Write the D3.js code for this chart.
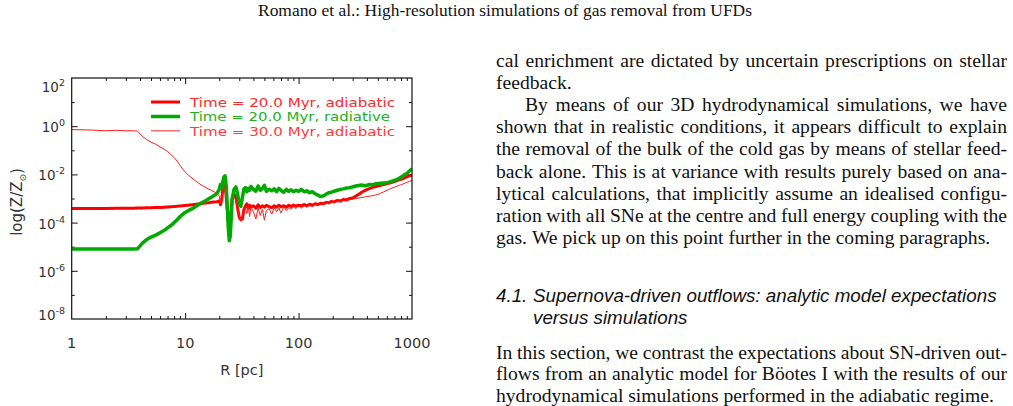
<!DOCTYPE html>
<html><head><meta charset="utf-8">
<script src="https://cdn.jsdelivr.net/npm/d3@7"></script>
<style>html,body{margin:0;padding:0;background:#fff;overflow:hidden;} svg{display:block;}</style>
</head><body>
<svg id="c" width="1013" height="406"></svg>
<script>
// ---------------- data ----------------
const radius_pc = [1,1.5,2,2.5,3,3.5,3.8,4.2,4.6,5,5.5,6,6.5,7,7.5,8,8.5,9,9.5,10,11,12,13,14,15,16,17,18,19,
  20,20.5,21,21.5,22,22.5,23,23.5,24,24.5,25,25.5,26,
  27,28,29,30,31,32,33,34,35,36,37,38,
  40,42,44,46,48,50,52,55,58,61,64,67,70,74,78,82,86,90,95,100,106,112,118,125,132,140,148,156,165,175,185,195,205,220,235,250,265,280,
  300,320,340,360,380,400,425,450,475,500,530,560,590,620,650,690,730,770,810,850,900,950,1000];

// log10(Z/Zsun)
const logZ_adiabatic_20 = [-3.41,-3.41,-3.41,-3.40,-3.40,-3.40,-3.39,-3.39,-3.38,-3.38,-3.37,-3.37,-3.36,-3.35,-3.34,-3.33,-3.32,-3.31,-3.30,-3.29,-3.27,-3.25,-3.23,-3.21,-3.19,-3.18,-3.16,-3.15,-3.14,
  -3.10,-3.26,-3.05,-2.60,-2.35,-2.45,-2.90,-3.40,-3.90,-4.15,-3.90,-3.40,-3.00,
  -2.82,-2.92,-3.40,-3.78,-3.88,-3.85,-3.45,-3.32,-3.22,-3.42,-3.28,-3.36,
  -3.30,-3.40,-3.26,-3.38,-3.30,-3.36,-3.28,-3.34,-3.38,-3.30,-3.36,-3.28,-3.34,-3.30,-3.36,-3.28,-3.33,-3.27,-3.32,-3.28,-3.30,-3.25,-3.30,-3.24,-3.28,-3.22,-3.25,-3.20,-3.22,-3.16,-3.18,-3.12,-3.14,-3.08,-3.10,-3.04,-3.06,-3.00,
  -2.98,-2.90,-2.82,-2.74,-2.68,-2.63,-2.58,-2.54,-2.51,-2.48,-2.45,-2.42,-2.40,-2.37,-2.35,-2.31,-2.27,-2.23,-2.19,-2.15,-2.10,-2.06,-2.02];

const logZ_radiative_20 = [-5.10,-5.10,-5.10,-5.10,-5.10,-5.10,-5.09,-4.85,-4.70,-4.60,-4.52,-4.42,-4.33,-4.22,-4.12,-4.00,-3.88,-3.76,-3.66,-3.58,-3.47,-3.38,-3.27,-3.18,-3.10,-3.02,-2.95,-2.88,-2.80,
  -2.62,-2.42,-2.58,-2.30,-2.10,-2.06,-2.45,-3.30,-4.20,-4.75,-4.55,-3.80,-3.00,
  -2.62,-2.52,-2.80,-3.25,-3.32,-2.95,-2.60,-2.55,-2.72,-2.58,-2.66,-2.50,
  -2.62,-2.70,-2.48,-2.66,-2.58,-2.45,-2.70,-2.62,-2.68,-2.60,-2.72,-2.58,-2.66,-2.74,-2.62,-2.70,-2.64,-2.72,-2.66,-2.70,-2.62,-2.72,-2.68,-2.76,-2.72,-2.80,-2.86,-2.92,-2.90,-2.82,-2.76,-2.74,-2.70,-2.66,-2.62,-2.60,-2.56,-2.55,
  -2.52,-2.48,-2.46,-2.44,-2.47,-2.45,-2.42,-2.43,-2.40,-2.38,-2.37,-2.36,-2.35,-2.33,-2.30,-2.26,-2.22,-2.16,-2.10,-2.03,-1.96,-1.86,-1.77];

const logZ_adiabatic_30 = [-0.14,-0.16,-0.19,-0.17,-0.19,-0.19,-0.20,-0.42,-0.56,-0.66,-0.75,-0.86,-0.95,-1.05,-1.18,-1.30,-1.45,-1.62,-1.78,-1.90,-2.08,-2.22,-2.35,-2.45,-2.53,-2.60,-2.66,-2.72,-2.78,
  -2.90,-3.20,-3.12,-2.75,-2.50,-2.62,-3.00,-3.50,-3.80,-3.92,-3.70,-3.30,-3.02,
  -2.90,-3.10,-3.50,-3.70,-3.95,-3.70,-3.55,-3.40,-3.62,-3.30,-3.75,-3.35,
  -3.55,-3.85,-3.40,-3.70,-3.45,-3.90,-3.50,-3.42,-3.65,-3.38,-3.55,-3.40,-3.60,-3.35,-3.50,-3.38,-3.45,-3.32,-3.42,-3.30,-3.40,-3.30,-3.36,-3.28,-3.34,-3.25,-3.30,-3.22,-3.26,-3.18,-3.22,-3.15,-3.18,-3.12,-3.14,-3.08,-3.10,-3.05,
  -3.03,-3.00,-2.98,-2.96,-2.94,-2.92,-2.90,-2.88,-2.86,-2.83,-2.78,-2.73,-2.68,-2.63,-2.59,-2.54,-2.50,-2.46,-2.42,-2.38,-2.33,-2.29,-2.25];

const seriesLabels = ["Time = 20.0 Myr, adiabatic", "Time = 20.0 Myr, radiative", "Time = 30.0 Myr, adiabatic"];
const xTickValues = [1, 10, 100, 1000];
const xTickLabels = ["1", "10", "100", "1000"];
const yTickExponents = [-8, -6, -4, -2, 0, 2];
const xTitle = "R [pc]";

const headerText = "Romano et al.: High-resolution simulations of gas removal from UFDs";
const paragraph1 = [
  "cal enrichment are dictated by uncertain prescriptions on stellar",
  "feedback."];
const paragraph2 = [
  "By means of our 3D hydrodynamical simulations, we have",
  "shown that in realistic conditions, it appears difficult to explain",
  "the removal of the bulk of the cold gas by means of stellar feed-",
  "back alone. This is at variance with results purely based on ana-",
  "lytical calculations, that implicitly assume an idealised configu-",
  "ration with all SNe at the centre and full energy coupling with the",
  "gas. We pick up on this point further in the coming paragraphs."];
const headingNumber = "4.1.";
const headingLines = ["Supernova-driven outflows: analytic model expectations", "versus simulations"];
const paragraph3 = [
  "In this section, we contrast the expectations about SN-driven out-",
  "flows from an analytic model for Böotes I with the results of our",
  "hydrodynamical simulations performed in the adiabatic regime."];

// ---------------- drawing ----------------
const svg = d3.select("#c");
svg.append("rect").attr("width", 1013).attr("height", 406).attr("fill", "#fff");

// header
svg.append("text").attr("x", 505).attr("y", 16).attr("text-anchor", "middle")
  .attr("font-family", "Liberation Serif").attr("font-size", 17)
  .attr("textLength", 494).attr("lengthAdjust", "spacingAndGlyphs")
  .attr("fill", "#111").text(headerText);

// chart
const P = {left: 71.7, right: 412, top: 78, bottom: 319};
const x = d3.scaleLog().domain([1, 1000]).range([P.left, P.right]);
const y = d3.scaleLog().domain([1e-8, 1e2]).range([P.bottom, P.top]);

const chart = svg.append("g");
const clip = svg.append("defs").append("clipPath").attr("id", "pc");
clip.append("rect").attr("x", P.left).attr("y", P.top).attr("width", P.right - P.left).attr("height", P.bottom - P.top);

const minorX = [2,3,4,5,6,7,8,9,20,30,40,50,60,70,80,90,200,300,400,500,600,700,800,900];
const majorX = [10, 100];
const majorY = [1e-6, 1e-4, 1e-2, 1];
const minorY = [1e-7, 1e-5, 1e-3, 1e-1, 10];

function tickAxis(gen, vals, size, tx, ty) {
  const g = chart.append("g").attr("transform", `translate(${tx},${ty})`)
    .call(gen.tickValues(vals).tickSize(-size).tickFormat(""));
  g.select(".domain").remove();
  g.selectAll("line").attr("stroke", "#111").attr("stroke-width", 1);
}
tickAxis(d3.axisBottom(x), majorX, 6, 0, P.bottom);
tickAxis(d3.axisBottom(x), minorX, 3, 0, P.bottom);
tickAxis(d3.axisTop(x), majorX, 6, 0, P.top);
tickAxis(d3.axisTop(x), minorX, 3, 0, P.top);
tickAxis(d3.axisLeft(y), majorY, 6, P.left, 0);
tickAxis(d3.axisLeft(y), minorY, 3, P.left, 0);
tickAxis(d3.axisRight(y), majorY, 6, P.right, 0);
tickAxis(d3.axisRight(y), minorY, 3, P.right, 0);

// series
const series = [
  {vals: logZ_adiabatic_20, color: "#ff0000", w: 3},
  {vals: logZ_adiabatic_30, color: "#ff1a1a", w: 1},
  {vals: logZ_radiative_20, color: "#00aa00", w: 3.5}
];
const line = d3.line().x(d => x(d[0])).y(d => y(d[1]));
const plotG = chart.append("g").attr("clip-path", "url(#pc)");
series.forEach(s => {
  plotG.append("path")
    .datum(radius_pc.map((r, i) => [r, Math.pow(10, s.vals[i])]))
    .attr("d", line).attr("fill", "none").attr("stroke", s.color)
    .attr("stroke-width", s.w).attr("stroke-linejoin", "round").attr("stroke-linecap", "butt");
});

// frame
chart.append("rect").attr("x", P.left).attr("y", P.top)
  .attr("width", P.right - P.left).attr("height", P.bottom - P.top)
  .attr("fill", "none").attr("stroke", "#111").attr("stroke-width", 1.2);

// x tick labels
xTickValues.forEach((v, i) => {
  chart.append("text").attr("x", x(v)).attr("y", 348).attr("text-anchor", "middle")
    .attr("font-family", "DejaVu Sans").attr("font-size", 14.5).attr("fill", "#333")
    .text(xTickLabels[i]);
});
chart.append("text").attr("x", (P.left + P.right) / 2).attr("y", 375).attr("text-anchor", "middle")
  .attr("font-family", "DejaVu Sans").attr("font-size", 14.5).attr("fill", "#333").text(xTitle);

// y tick labels
yTickExponents.forEach(e => {
  let cy = y(Math.pow(10, e));
  cy = Math.min(Math.max(cy + 1, P.top + 9), P.bottom - 4.5);
  const t = chart.append("text").attr("x", 65).attr("y", cy + 5).attr("text-anchor", "end")
    .attr("font-family", "DejaVu Sans").attr("font-size", 13.5).attr("fill", "#333");
  t.append("tspan").text("10");
  t.append("tspan").attr("dy", -6).attr("font-size", 9.5).text(String(e));
});

// y title
const yt = chart.append("text").attr("transform", "translate(22,202) rotate(-90)")
  .attr("text-anchor", "middle").attr("font-family", "DejaVu Sans").attr("font-size", 15).attr("fill", "#333");
yt.append("tspan").text("log(Z/Z");
yt.append("tspan").attr("font-size", 9).attr("dy", 4).text("\u2299");
yt.append("tspan").attr("dy", -4).text(")");

// legend
const legendColors = ["#ff0000", "#00aa00", "#ff4a4a"];
const legendTextColors = ["#ff2a2a", "#22b022", "#ff3a3a"];
const legendWidths = [3, 3.5, 1.2];
const legendRows = [102, 116.5, 130.8];
seriesLabels.forEach((lab, i) => {
  chart.append("line").attr("x1", 151).attr("x2", 180).attr("y1", legendRows[i]).attr("y2", legendRows[i])
    .attr("stroke", legendColors[i]).attr("stroke-width", legendWidths[i]);
  chart.append("text").attr("x", 190).attr("y", legendRows[i] + 4.8)
    .attr("font-family", "DejaVu Sans").attr("font-size", 12.5)
    .attr("textLength", i === 1 ? 200 : 205).attr("lengthAdjust", "spacingAndGlyphs")
    .attr("fill", legendTextColors[i]).text(lab);
});

// ---------------- text column ----------------
const COL_L = 496, COL_R = 1007;
function setLine(str, x0, x1, base, justify, fam, size, style) {
  const words = str.split(" ");
  const els = words.map(w => svg.append("text").attr("y", base)
    .attr("font-family", fam).attr("font-size", size).attr("font-style", style || "normal")
    .attr("fill", "#111").text(w));
  const widths = els.map(e => e.node().getComputedTextLength());
  const total = d3.sum(widths);
  const gap = (justify && words.length > 1) ? (x1 - x0 - total) / (words.length - 1) : size * 0.25;
  let cx = x0;
  els.forEach((e, i) => { e.attr("x", cx); cx += widths[i] + gap; });
}
const serif = "Liberation Serif", FS = 19.6, LH = 22.1;
let base = 67;
paragraph1.forEach((l, i) => { setLine(l, COL_L, COL_R, base, i < paragraph1.length - 1, serif, FS); base += LH; });
paragraph2.forEach((l, i) => { setLine(l, i === 0 ? COL_L + 29 : COL_L, COL_R, base, i < paragraph2.length - 1, serif, FS); base += LH; });

// heading
const HS = 18.8;
svg.append("text").attr("x", COL_L).attr("y", 302).attr("font-family", "Liberation Sans")
  .attr("font-style", "italic").attr("font-size", HS).attr("fill", "#111").text(headingNumber);
headingLines.forEach((l, i) => {
  svg.append("text").attr("x", 533).attr("y", 302 + i * 21.5).attr("font-family", "Liberation Sans")
    .attr("font-style", "italic").attr("font-size", HS).attr("fill", "#111").text(l);
});

base = 358.5;
paragraph3.forEach((l, i) => { setLine(l, COL_L, COL_R, base, i < paragraph3.length - 1, serif, FS); base += 21.5; });
</script>
</body></html>
